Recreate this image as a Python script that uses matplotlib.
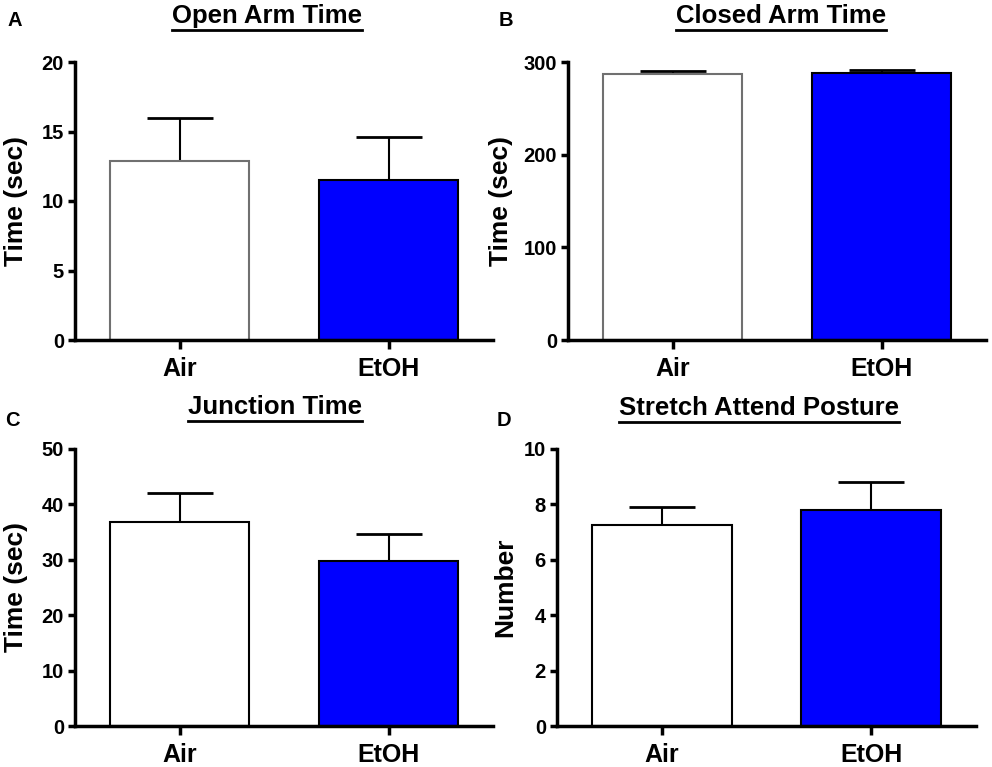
import matplotlib.pyplot as plt

plt.rcParams["font.family"] = ["Liberation Sans", "DejaVu Sans"]
plt.rcParams["font.weight"] = "bold"

groups = ["Air", "EtOH"]
colors = ["white", "#0000ff"]

titles = ["Open Arm Time", "Closed Arm Time", "Junction Time", "Stretch Attend Posture"]
letters = ["A", "B", "C", "D"]
ylabels = ["Time (sec)", "Time (sec)", "Time (sec)", "Number"]

open_arm = [12.85, 11.5]
open_arm_err = [3.15, 3.13]
closed_arm = [287.0, 288.4]
closed_arm_err = [3.6, 2.9]
junction = [36.9, 29.7]
junction_err = [5.1, 5.0]
stretch = [7.25, 7.81]
stretch_err = [0.65, 1.01]

means = [open_arm, closed_arm, junction, stretch]
errors = [open_arm_err, closed_arm_err, junction_err, stretch_err]
ymax = [20, 300, 50, 10]
ystep = [5, 100, 10, 2]
air_edge = ["#707070", "#707070", "black", "black"]

W, H = 992, 767
# axes boxes in pixels: left, top, right, bottom
boxes = [
    (75, 62, 493, 340),
    (568, 62, 986, 340),
    (75, 449, 493, 726),
    (557, 449, 976, 726),
]
title_pos = [(267, 16), (781, 16), (275, 407), (759, 408)]
letter_pos = [(7, 21), (499, 20), (5, 421), (497, 421)]
ylabel_x = [16, 501, 16, 505]

fig = plt.figure(figsize=(W / 100, H / 100), dpi=100)

for i in range(4):
    l, t, r, b = boxes[i]
    ax = fig.add_axes([l / W, 1 - b / H, (r - l) / W, (b - t) / H])
    x = range(len(groups))
    ax.bar(x, means[i], width=0.667, color=colors,
           edgecolor=[air_edge[i], "black"], linewidth=1.5, zorder=2)
    ax.errorbar(x, means[i], yerr=[[0, 0], errors[i]], fmt="none",
                ecolor="black", elinewidth=1.5, capsize=24, capthick=2, zorder=1)
    ax.set_xlim(-0.5, 1.5)
    ax.set_ylim(0, ymax[i])
    ax.set_yticks(range(0, ymax[i] + 1, ystep[i]))
    ax.set_xticks(list(x))
    ax.set_xticklabels(groups, fontsize=18, fontweight="bold")
    ax.tick_params(axis="y", labelsize=14.5, width=2.5, length=5, pad=3)
    ax.tick_params(axis="x", width=2.5, length=6.5, pad=6)
    for lab in ax.get_yticklabels():
        lab.set_fontweight("bold")
    ax.spines["top"].set_visible(False)
    ax.spines["right"].set_visible(False)
    ax.spines["left"].set_linewidth(2.5)
    ax.spines["bottom"].set_linewidth(2.5)

    fig.text(ylabel_x[i] / W, 1 - (t + b) / 2 / H, ylabels[i], fontsize=19,
             fontweight="bold", rotation=90, ha="center", va="center")

    tx, ty = title_pos[i]
    fig.text(tx / W, 1 - ty / H, titles[i], fontsize=18.5, fontweight="bold",
             ha="center", va="center")
    fig.text(letter_pos[i][0] / W, 1 - letter_pos[i][1] / H, letters[i],
             fontsize=14.5, fontweight="bold", ha="left", va="center")

fig.canvas.draw()
renderer = fig.canvas.get_renderer()
for t in fig.texts:
    if t.get_text() in titles:
        bb = t.get_window_extent(renderer)
        y = bb.y0 - 2
        fig.add_artist(plt.Line2D([bb.x0 / W, bb.x1 / W], [y / H, y / H],
                                  color="black", linewidth=2,
                                  transform=fig.transFigure))

fig.savefig("out.png", dpi=100)
